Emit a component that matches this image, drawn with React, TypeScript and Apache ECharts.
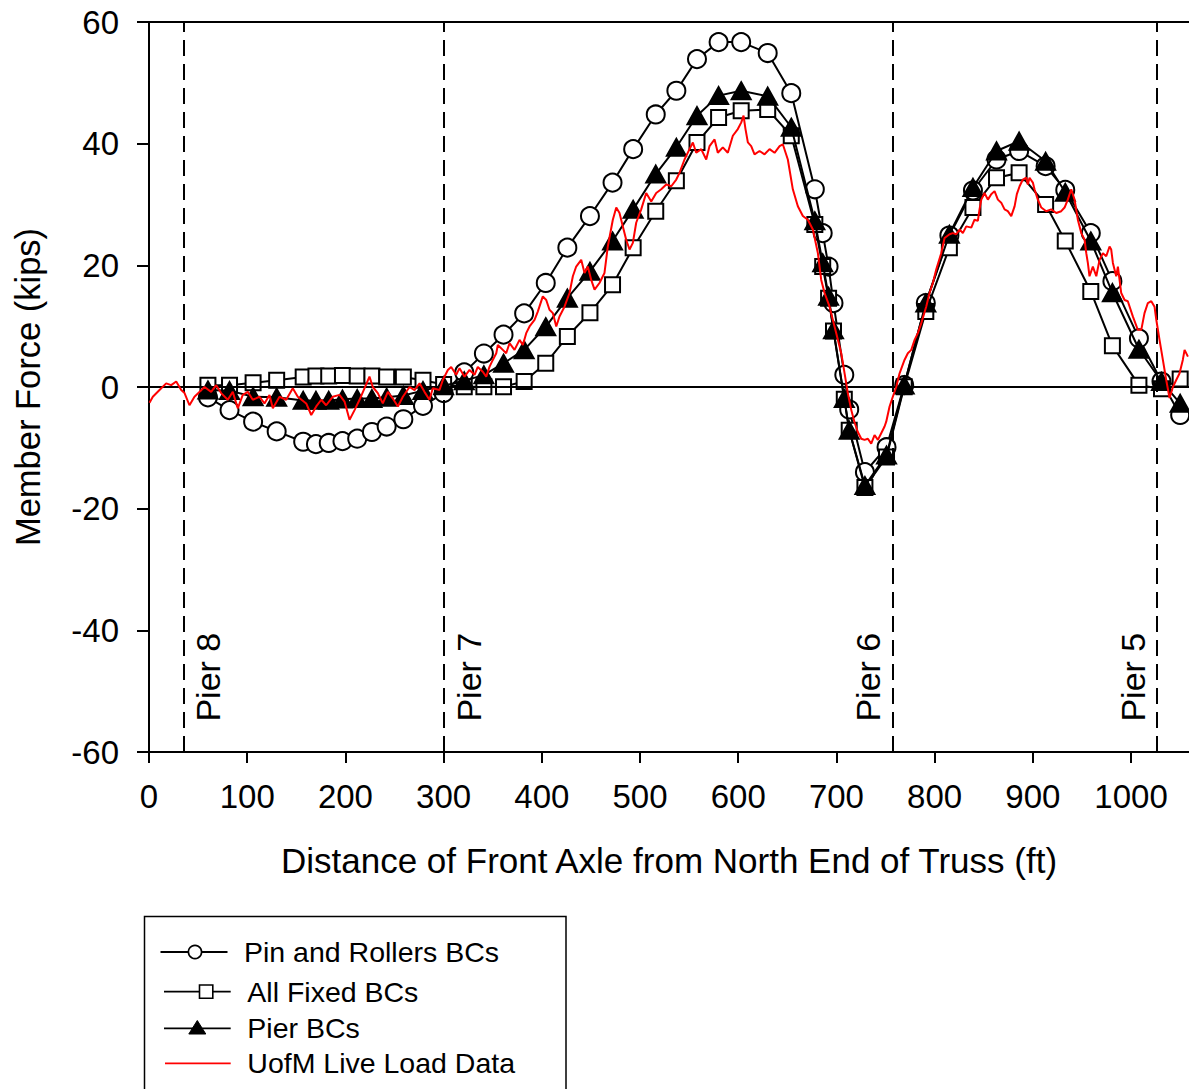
import React, { useEffect, useRef } from "react";
import * as echarts from "echarts";

const FONT = '"Liberation Sans", Arial, Helvetica, sans-serif';

// Front-axle stations (ft) at which the three truss models were evaluated
const stations = [
  60, 82, 106, 130, 157, 170, 183, 197, 212, 227, 242, 259, 279, 300,
  321, 341, 361, 382, 404, 426, 449, 472, 493, 516, 537, 558, 580, 603, 630, 654,
  678, 686, 692, 697, 708, 713, 729, 751, 769,
  791, 815, 839, 863, 886, 913, 933, 959, 981, 1008, 1031, 1050,
];

// Member force (kips) for each boundary-condition model
const pinRollers = [
  -1.7, -3.8, -5.7, -7.3, -9.0, -9.4, -9.2, -8.9, -8.5, -7.4, -6.5, -5.3, -3.1, -1.0,
  2.4, 5.5, 8.6, 12.1, 17.1, 22.9, 28.1, 33.6, 39.1, 44.8, 48.7, 53.9, 56.7, 56.7, 54.9, 48.3,
  32.5, 25.3, 19.8, 13.8, 2.0, -3.7, -14.0, -9.9, 0.3,
  13.8, 24.9, 32.3, 37.4, 38.8, 36.3, 32.4, 25.3, 17.4, 8.0, 0.9, -4.6,
];
const allFixed = [
  0.3, 0.3, 0.7, 1.1, 1.65, 1.8, 1.8, 1.9, 1.8, 1.8, 1.65, 1.65, 1.1, 0.4,
  0.05, 0.05, 0.05, 0.9, 3.9, 8.3, 12.2, 16.8, 22.9, 28.9, 33.9, 40.2, 44.3, 45.4, 45.6, 41.3,
  26.7, 19.8, 14.6, 9.2, -2.0, -7.1, -16.5, -11.5, 0.05,
  12.4, 22.9, 29.5, 34.4, 35.2, 30.0, 24.0, 15.7, 6.8, 0.3, -0.3, 1.3,
];
const pierBCs = [
  -0.5, -0.6, -1.6, -1.7, -2.2, -2.2, -2.2, -2.0, -1.9, -1.9, -1.7, -1.4, -0.6, 0.2,
  1.0, 2.0, 3.9, 6.1, 9.9, 14.6, 19.0, 24.0, 29.2, 35.0, 39.4, 44.6, 47.9, 48.7, 47.8, 42.7,
  27.3, 20.4, 14.9, 9.4, -1.9, -7.1, -16.2, -11.2, 0.3,
  13.8, 25.1, 32.8, 38.8, 40.4, 37.1, 32.0, 24.0, 15.5, 6.2, 0.9, -2.7,
];

// Measured live-load response: [distance (ft), force (kips)]
const liveLoad: [number, number][] = [
  [0.5, -2.6], [3.9, -1.6], [10.7, -0.5], [17.5, 0.6], [22.6, 0.3], [27.7, 0.9], [32.8, -0.5],
  [36.2, -1.0], [41.2, -3.0], [46.3, -1.6], [51.4, -0.8], [56.5, 0], [63.3, -0.8], [68.4, 0.3],
  [73.5, -1.0], [80.2, -2.1], [85.3, -0.8], [90.4, -3.5], [95.5, -1.3], [100.6, -0.8], [105.7, -2.1],
  [112.5, -1.6], [117.6, -2.7], [122.7, -1.3], [126.1, -3.5], [132.9, -1.6], [139.7, -2.1],
  [146.4, -0.2], [151.5, -1.6], [160.1, -2.7], [165.2, -4.6], [170.3, -3.2], [175.4, -2.1],
  [180.4, -3.0], [187.2, -1.6], [194.0, -1.3], [199.1, -2.4], [204.2, -5.4], [209.3, -3.8],
  [214.4, -2.1], [219.5, -0.2], [224.5, 1.7], [227.9, 0], [233.0, -1.0], [238.1, -2.7],
  [243.2, -0.8], [248.3, -1.9], [253.4, -3.2], [258.5, -1.6], [265.3, 0], [270.4, -0.5],
  [275.5, 0.6], [280.5, -0.8], [285.6, -2.1], [289.0, -0.2], [295.8, -0.5], [299.2, 1.15],
  [304.3, 2.8], [307.7, 3.3], [312.8, 2.0], [316.2, 3.1], [321.3, 1.7], [326.4, 2.8], [331.5, 2.0],
  [334.8, 3.3], [339.9, 2.5], [343.4, 1.7], [346.7, 3.3], [350.1, 4.45], [353.6, 5.55], [355.2, 6.9],
  [360.3, 6.1], [363.7, 5.55], [367.1, 7.2], [372.2, 6.1], [377.3, 7.75], [380.7, 6.9], [384.1, 8.85],
  [387.5, 9.95], [392.6, 11.05], [395.9, 12.4], [401.0, 14.9], [404.5, 14.3], [407.8, 12.7],
  [411.2, 12.15], [414.7, 9.95], [418.0, 11.6], [423.1, 13.2], [428.2, 15.45], [431.6, 18.2],
  [435.0, 19.8], [440.1, 20.9], [443.5, 18.75], [446.8, 19.8], [450.3, 17.6], [453.7, 16.0],
  [458.7, 17.1], [463.8, 18.75], [467.2, 23.1], [472.3, 27.5], [475.8, 29.5], [479.1, 28.6],
  [482.5, 26.4], [485.9, 24.2], [489.3, 22.6], [492.7, 23.7], [496.1, 27.0], [501.2, 29.2],
  [506.3, 31.9], [511.4, 30.5], [516.5, 31.9], [521.6, 32.5], [526.7, 33.3], [531.8, 33.0],
  [536.9, 34.1], [540.2, 35.2], [545.3, 37.4], [550.4, 39.1], [553.8, 40.2], [557.2, 38.5],
  [562.3, 39.1], [567.4, 37.4], [570.8, 39.6], [575.9, 40.7], [579.2, 38.5], [584.3, 39.4],
  [589.4, 38.5], [594.5, 41.3], [599.6, 42.4], [603.1, 43.5], [605.4, 44.6], [607.4, 42.4],
  [609.8, 40.2], [613.2, 39.6], [616.6, 38.25], [621.7, 38.8], [626.8, 38.25], [631.9, 39.1],
  [637.0, 38.5], [642.1, 39.6], [645.4, 39.9], [650.5, 37.4], [655.6, 32.5], [660.7, 29.7],
  [665.8, 28.1], [670.9, 27.5], [676.0, 25.9], [681.1, 22.0], [684.5, 17.6], [687.9, 15.45],
  [693.0, 13.2], [696.3, 11.05], [699.8, 8.85], [704.9, 5.55], [708.3, 2.25], [711.6, -1.0],
  [715.1, -3.8], [718.4, -5.8], [721.8, -7.4], [725.3, -8.5], [728.6, -8.7], [732.0, -8.5],
  [735.4, -9.3], [738.8, -7.9], [742.2, -8.7], [745.6, -7.6], [749.0, -6.5], [750.7, -5.7],
  [754.1, -3.2], [757.4, -1.6], [760.9, 0], [764.3, 2.25], [769.3, 4.45], [772.7, 5.55],
  [776.2, 6.1], [779.6, 7.75], [782.9, 8.85], [786.4, 10.5], [791.4, 13.2], [794.8, 15.45],
  [798.2, 17.1], [801.6, 19.3], [806.7, 22.0], [810.1, 24.5], [815.2, 25.1], [818.5, 25.3],
  [822.0, 25.1], [825.4, 25.9], [828.7, 25.3], [832.2, 26.4], [837.3, 26.2], [840.6, 27.5],
  [844.0, 27.3], [845.7, 29.2], [847.5, 30.8], [850.8, 31.9], [854.2, 30.8], [857.6, 31.7],
  [861.0, 32.2], [864.4, 30.8], [867.8, 30.3], [871.2, 29.2], [874.5, 28.9], [878.0, 28.1],
  [881.4, 29.7], [883.7, 31.7], [886.5, 33.0], [889.8, 34.1], [893.3, 34.4], [894.9, 33.3],
  [896.6, 34.4], [900.0, 33.6], [901.7, 32.5], [905.1, 30.8], [908.6, 29.5], [913.6, 28.9],
  [918.7, 29.2], [923.8, 28.6], [928.9, 28.9], [932.3, 29.5], [935.6, 30.8], [939.1, 32.5],
  [942.5, 30.8], [945.8, 27.5], [949.3, 25.3], [952.7, 24.2], [954.4, 22.0], [956.0, 20.4],
  [957.7, 18.2], [961.1, 19.8], [964.6, 18.2], [967.9, 20.9], [971.3, 22.0], [974.7, 21.5],
  [978.1, 23.1], [979.8, 22.6], [981.5, 20.4], [984.9, 18.2], [986.6, 19.8], [990.0, 15.45],
  [993.4, 14.3], [996.7, 14.1], [1001.8, 11.6], [1006.9, 9.4], [1010.4, 9.4], [1013.7, 12.15],
  [1017.1, 13.8], [1020.6, 14.1], [1023.9, 13.2], [1025.7, 11.05], [1029.0, 7.75], [1032.4, 4.45],
  [1035.8, 1.15], [1039.2, -1.8], [1042.6, 0], [1046.0, 1.15], [1049.4, 2.25], [1052.7, 4.45],
  [1054.5, 6.1], [1057.9, 5.0],
];

// Pier centrelines along the truss
const pierStations = [35, 300, 757, 1026];
const pierNames = ["Pier 8", "Pier 7", "Pier 6", "Pier 5"];

const seriesNames = ["Pin and Rollers BCs", "All Fixed BCs", "Pier BCs", "UofM Live Load Data"];

const pair = (xs: number[], ys: number[]) => xs.map((x, i) => [x, ys[i]]);

export default function App() {
  const ref = useRef<HTMLDivElement>(null);

  useEffect(() => {
    const el = ref.current;
    if (!el) return;
    const chart = echarts.init(el, null, { renderer: "svg" });

    const modelSeries = (
      name: string,
      values: number[],
      symbol: string,
      size: number | number[],
      fill: string,
      z: number,
      extra: any = {}
    ) => ({
      type: "line",
      name,
      data: pair(stations, values),
      symbol,
      symbolSize: size,
      showSymbol: true,
      showAllSymbol: true,
      silent: true,
      z,
      lineStyle: { color: "#000", width: 2 },
      itemStyle: { color: fill, borderColor: "#000", borderWidth: 2 },
      emphasis: { disabled: true },
      ...extra,
    });

    const axisText = { fontFamily: FONT, fontSize: 33, color: "#000" };

    chart.setOption({
      animation: false,
      backgroundColor: "#fff",
      grid: { left: 149, top: 22, right: 0, bottom: 337 },
      xAxis: [
        {
          type: "value",
          min: 0,
          max: 1059,
          interval: 100,
          name: "Distance of Front Axle from North End of Truss (ft)",
          nameLocation: "middle",
          nameGap: 91,
          nameTextStyle: { fontFamily: FONT, fontSize: 35, color: "#000" },
          axisLine: { show: true, onZero: false, lineStyle: { color: "#000", width: 2 } },
          axisTick: { show: true, inside: false, length: 11, lineStyle: { color: "#000", width: 2 } },
          axisLabel: {
            ...axisText,
            margin: 28,
            showMaxLabel: false,
            formatter: (v: number) => (v % 100 === 0 ? String(v) : ""),
          },
          splitLine: { show: false },
        },
        {
          type: "value",
          position: "top",
          min: 0,
          max: 1059,
          axisLine: { show: true, onZero: false, lineStyle: { color: "#000", width: 2 } },
          axisTick: { show: false },
          axisLabel: { show: false },
          splitLine: { show: false },
        },
      ],
      yAxis: {
        type: "value",
        min: -60,
        max: 60,
        interval: 20,
        name: "Member Force (kips)",
        nameLocation: "middle",
        nameGap: 104,
        nameTextStyle: { fontFamily: FONT, fontSize: 34.5, color: "#000" },
        axisLine: { show: true, onZero: false, lineStyle: { color: "#000", width: 2 } },
        axisTick: { show: true, inside: false, length: 12, lineStyle: { color: "#000", width: 2 } },
        axisLabel: { ...axisText, margin: 30 },
        splitLine: { show: false },
      },
      series: [
        modelSeries(seriesNames[0], pinRollers, "circle", 18, "#fff", 2, {
          markLine: {
            silent: true,
            symbol: ["none", "none"],
            label: { show: false },
            emphasis: { disabled: true },
            data: [
              { yAxis: 0, lineStyle: { type: "solid", color: "#000", width: 2 } },
              ...pierStations.map((x) => ({
                xAxis: x,
                lineStyle: { type: [16, 8], color: "#000", width: 2 },
              })),
            ],
          },
        }),
        modelSeries(seriesNames[1], allFixed, "rect", 15, "#fff", 3),
        modelSeries(seriesNames[2], pierBCs, "triangle", [19, 17], "#000", 4),
        {
          type: "line",
          name: seriesNames[3],
          data: liveLoad,
          symbol: "none",
          silent: true,
          z: 5,
          lineStyle: { color: "#ff0000", width: 2 },
          itemStyle: { color: "#ff0000" },
          emphasis: { disabled: true },
        },
      ],
    });

    // Pier labels, placed beside each dashed pier line
    const pierLabels = pierStations.map((x, i) => {
      const [px, py] = chart.convertToPixel({ xAxisIndex: 0, yAxisIndex: 0 }, [x, -55]) as number[];
      const side = i < 2 ? 25 : -24;
      return {
        type: "text",
        x: px + side,
        y: py,
        rotation: Math.PI / 2,
        silent: true,
        z: 10,
        style: {
          text: pierNames[i],
          font: `34px ${FONT}`,
          fill: "#000",
          align: "left",
          verticalAlign: "middle",
        },
      };
    });

    // Boxed key below the plot
    const textStyle = (text: string) => ({
      text,
      font: `28.5px ${FONT}`,
      fill: "#000",
      align: "left",
      verticalAlign: "middle",
    });
    const keyLine = (x1: number, x2: number, y: number, color: string) => ({
      type: "line",
      silent: true,
      shape: { x1, y1: y, x2, y2: y },
      style: { stroke: color, lineWidth: 1.8 },
    });
    const key = [
      {
        type: "rect",
        silent: true,
        shape: { x: 144.5, y: 916.5, width: 421.5, height: 220 },
        style: { fill: "#fff", stroke: "#000", lineWidth: 1.5 },
      },
      keyLine(160.5, 227.5, 952, "#000"),
      {
        type: "circle",
        silent: true,
        shape: { cx: 195, cy: 952, r: 6.6 },
        style: { fill: "#fff", stroke: "#000", lineWidth: 1.6 },
      },
      { type: "text", silent: true, x: 244, y: 952, style: textStyle(seriesNames[0]) },
      keyLine(164, 230.7, 991.7, "#000"),
      {
        type: "rect",
        silent: true,
        shape: { x: 199.5, y: 985, width: 13.3, height: 13.3 },
        style: { fill: "#fff", stroke: "#000", lineWidth: 1.6 },
      },
      { type: "text", silent: true, x: 247.3, y: 991.7, style: textStyle(seriesNames[1]) },
      keyLine(164, 230.7, 1028.3, "#000"),
      {
        type: "polygon",
        silent: true,
        shape: { points: [[197.3, 1020.5], [205.8, 1034], [188.8, 1034]] },
        style: { fill: "#000", stroke: "#000", lineWidth: 1 },
      },
      { type: "text", silent: true, x: 247.3, y: 1028.3, style: textStyle(seriesNames[2]) },
      keyLine(165, 230.7, 1063.3, "#ff0000"),
      { type: "text", silent: true, x: 247.3, y: 1063.3, style: textStyle(seriesNames[3]) },
    ];

    chart.setOption({ graphic: [...pierLabels, ...key] });

    return () => chart.dispose();
  }, []);

  return (
    <div
      ref={ref}
      style={{ position: "absolute", left: 0, top: 0, width: 1189, height: 1089, background: "#fff" }}
    />
  );
}
